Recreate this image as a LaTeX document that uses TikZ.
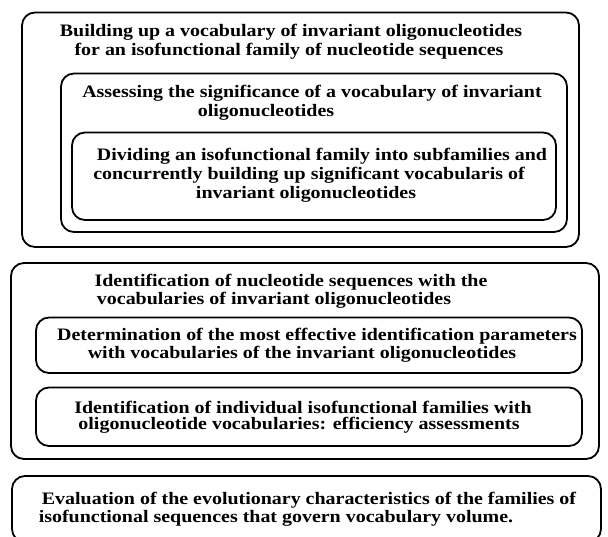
\documentclass[tikz,border=0pt]{standalone}
\usepackage{fontspec}
\setmainfont{Liberation Serif}[FakeStretch=1.14]
\tikzset{
  box/.style={line width=1.8pt, rounded corners=13pt},
  txt/.style={font=\fontsize{17.5}{19}\selectfont\bfseries, inner sep=0pt},
}
\begin{document}
\begin{tikzpicture}[x=1pt,y=1pt,yscale=-1]
\useasboundingbox (0,0) rectangle (608,536);

%Shape: Rounded Rect [building]
\draw [box] (22,12.5) rectangle (579,247);
%Shape: Rounded Rect [assessing]
\draw [box] (61,73.5) rectangle (567,232);
%Shape: Rounded Rect [dividing]
\draw [box] (72,132.5) rectangle (556,220);
%Shape: Rounded Rect [identification]
\draw [box] (11,263) rectangle (599,459);
%Shape: Rounded Rect [determination]
\draw [box] (36,317.5) rectangle (582,373);
%Shape: Rounded Rect [individual]
\draw [box] (36,387.5) rectangle (582,446);
%Shape: Rounded Rect [evaluation]
\draw [box] (12,476) rectangle (601,542);

% Text Node
\node [txt] (build1) at (291,32) {Building up a vocabulary of invariant oligonucleotides};
% Text Node
\node [txt] (build2) at (289,51) {for an isofunctional family of nucleotide sequences};
% Text Node
\node [txt] (assess1) at (312,93) {Assessing the significance of a vocabulary of invariant};
% Text Node
\node [txt] (assess2) at (266,112) {oligonucleotides};
% Text Node
\node [txt] (divide1) at (322,156) {Dividing an isofunctional family into subfamilies and};
% Text Node
\node [txt] (divide2) at (309,175) {concurrently building up significant vocabularis of};
% Text Node
\node [txt] (divide3) at (306,194) {invariant oligonucleotides};
% Text Node
\node [txt] (ident1) at (291,282) {Identification of nucleotide sequences with the};
% Text Node
\node [txt] (ident2) at (274,300) {vocabularies of invariant oligonucleotides};
% Text Node
\node [txt] (determ1) at (317,336) {Determination of the most effective identification parameters};
% Text Node
\node [txt] (determ2) at (302,354) {with vocabularies of the invariant oligonucleotides};
% Text Node
\node [txt] (indiv1) at (303,407) {Identification of individual isofunctional families with};
% Text Node
\node [txt] (indiv2) at (299,425) {oligonucleotide vocabularies: efficiency assessments};
% Text Node
\node [txt] (eval1) at (309,500) {Evaluation of the evolutionary characteristics of the families of};
% Text Node
\node [txt] (eval2) at (276,518) {isofunctional sequences that govern vocabulary volume.};

\end{tikzpicture}
\end{document}
